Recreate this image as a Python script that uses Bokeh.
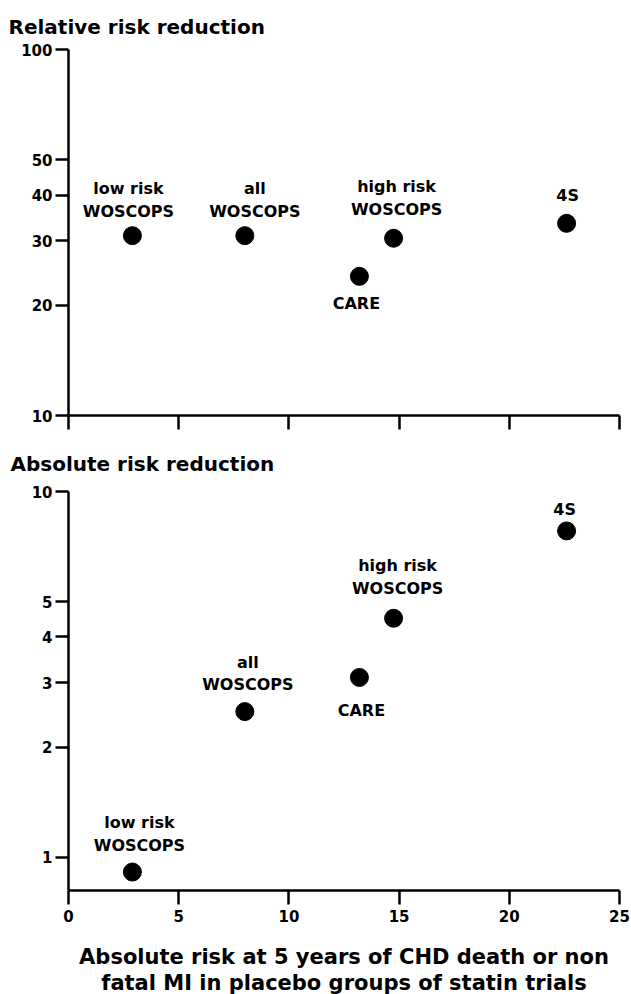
from bokeh.plotting import figure
from bokeh.layouts import column
from bokeh.models import FixedTicker, BasicTickFormatter, ColumnDataSource, Title
from bokeh.core.properties import value
from bokeh.embed import file_html
from bokeh.resources import INLINE

# ---- data ----
studies = ["low risk\nWOSCOPS", "all\nWOSCOPS", "high risk\nWOSCOPS", "CARE", "4S"]
placebo_risk = [2.9, 8.0, 14.75, 13.2, 22.6]        # x: absolute 5-y risk in placebo group (%)
relative_reduction = [31.0, 31.0, 30.5, 24.0, 33.5]  # top panel (%)
absolute_reduction = [0.91, 2.5, 4.5, 3.1, 7.8]      # bottom panel (%)

x_ticks = [0, 5, 10, 15, 20, 25]
x_tick_labels = ["0", "5", "10", "15", "20", "25"]
rrr_ticks = [10, 20, 30, 40, 50, 100]
rrr_tick_labels = ["10", "20", "30", "40", "50", "100"]
arr_ticks = [1, 2, 3, 4, 5, 10]
arr_tick_labels = ["1", "2", "3", "4", "5", "10"]

top_title = "Relative risk reduction"
bottom_title = "Absolute risk reduction"
x_title_lines = ["Absolute risk at 5 years of CHD death or non",
                 "fatal MI in placebo groups of statin trials"]

# label placement (pixels, screen space; positive dy = down)
top_dx = [-4, 10, 3, -3, 1]
top_dy = [-36, -36, -40, 27, -28]
bot_dx = [7, 3, 4, 2, -2]
bot_dy = [-38, -38, -41, 33, -21]

FONT = "DejaVu Sans"


def style(p, show_x_labels):
    p.outline_line_color = None
    p.grid.visible = False
    p.background_fill_color = "white"
    p.border_fill_color = "white"
    for ax in (p.xaxis[0], p.yaxis[0]):
        ax.axis_line_width = 2.5
        ax.axis_line_color = "black"
        ax.major_tick_line_width = 2.5
        ax.major_tick_line_color = "black"
        ax.major_tick_in = 0
        ax.minor_tick_in = 0
        ax.minor_tick_out = 0
        ax.major_label_text_font = FONT
        ax.major_label_text_font_style = "bold"
        ax.major_label_text_font_size = "15px"
        ax.major_label_text_color = "black"
    p.yaxis.major_tick_out = 13
    p.yaxis.major_label_standoff = 3
    p.xaxis.major_tick_out = 14
    p.xaxis.major_label_standoff = 5
    p.xaxis.ticker = FixedTicker(ticks=x_ticks, minor_ticks=[])
    if show_x_labels:
        p.xaxis.major_label_overrides = dict(zip(x_ticks, x_tick_labels))
    else:
        p.xaxis.major_label_overrides = {t: "" for t in x_ticks}
        p.xaxis.major_label_standoff = 0
        p.xaxis.major_label_text_font_size = "1px"


def add_points(p, ys, dx, dy):
    src = ColumnDataSource(dict(x=placebo_risk, y=ys, label=studies, dx=dx, dy=dy))
    p.scatter("x", "y", source=src, size=18, color="black")
    p.text("x", "y", text="label", source=src, x_offset="dx", y_offset="dy",
           text_align="center", text_baseline="middle",
           text_font=value(FONT), text_font_style="bold", text_font_size="16px",
           text_line_height=1.2, text_color="black")


def heading(text, offset, standoff, size="20px", align="left"):
    return Title(text=text, align=align, offset=offset, standoff=standoff,
                 text_font=FONT, text_font_style="bold", text_font_size=size,
                 text_color="black")


# ---- top panel ----
p1 = figure(width=630, height=433, x_range=(0, 25), y_range=(10, 100), y_axis_type="log",
            output_backend="svg", toolbar_location=None, title=None,
            min_border_left=68, min_border_right=11, min_border_top=49, min_border_bottom=18)
style(p1, False)
p1.yaxis.ticker = FixedTicker(ticks=rrr_ticks, minor_ticks=[])
p1.yaxis.formatter = BasicTickFormatter()
p1.yaxis.major_label_overrides = dict(zip(rrr_ticks, rrr_tick_labels))
p1.add_layout(heading(top_title, -60, 22), "above")
add_points(p1, relative_reduction, top_dx, top_dy)

# ---- bottom panel ----
p2 = figure(width=630, height=561, x_range=(0, 25), y_range=(0.81, 10), y_axis_type="log",
            output_backend="svg", toolbar_location=None, title=None,
            min_border_left=68, min_border_right=11, min_border_top=58, min_border_bottom=103)
style(p2, True)
p2.yaxis.ticker = FixedTicker(ticks=arr_ticks, minor_ticks=[])
p2.yaxis.formatter = BasicTickFormatter()
p2.yaxis.major_label_overrides = dict(zip(arr_ticks, arr_tick_labels))
p2.add_layout(heading(bottom_title, -58, 31), "above")
# small blank spacer between tick labels and the two-line axis title
p2.xaxis.axis_label = " "
p2.xaxis.axis_label_text_font_size = "10px"
p2.xaxis.axis_label_standoff = 4
for line in x_title_lines:
    p2.add_layout(heading(line, 17, 0, size="21px", align="center"), "below")
add_points(p2, absolute_reduction, bot_dx, bot_dy)

layout = column(p1, p2, spacing=0)
open("out.html", "w").write(file_html(layout, INLINE))
